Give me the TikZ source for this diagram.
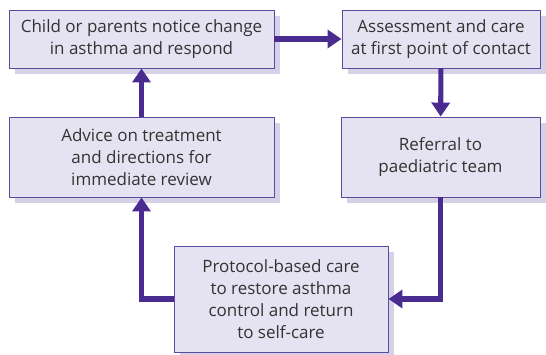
\documentclass[tikz,border=0pt]{standalone}
\usepackage{fontspec}
\setmainfont{Open Sans}
\usetikzlibrary{arrows.meta,shadows}

\definecolor{boxfill}{HTML}{E5E3F1}
\definecolor{boxline}{HTML}{5B4A9E}
\definecolor{boxshade}{HTML}{D5D2E8}
\definecolor{flow}{HTML}{4A2C90}
\definecolor{txt}{HTML}{333333}

\tikzset{
  carebox/.style={draw=boxline, line width=0.8pt, fill=boxfill, align=center,
    text=txt, font=\fontsize{14.5}{18.8}\selectfont, inner sep=0pt,
    drop shadow={shadow xshift=0.18cm, shadow yshift=-0.18cm, fill=boxshade, opacity=1}},
  flowline/.style={draw=flow, line width=4.3pt,
    -{Triangle[length=0.42cm,width=0.54cm]}}
}

\begin{document}
\begin{tikzpicture}
				\useasboundingbox (0,0) rectangle (16.38,10.62);
				
				% Draw the five stages of care
				\node[carebox, minimum width=7.95cm, minimum height=1.74cm] (notice) at (4.245,9.45)
				  {Child or parents notice change\\in asthma and respond};
				\node[carebox, minimum width=5.94cm, minimum height=1.74cm] (assess) at (13.23,9.45)
				  {Assessment and care\\at first point of contact};
				\node[carebox, minimum width=5.97cm, minimum height=2.4cm] (referral) at (13.215,5.91)
				  {Referral to\\paediatric team};
				\node[carebox, minimum width=7.95cm, minimum height=2.4cm] (advice) at (4.245,5.91)
				  {Advice on treatment\\and directions for\\immediate review};
				\node[carebox, minimum width=6.42cm, minimum height=3.18cm] (protocol) at (8.43,1.65)
				  {Protocol-based care\\to restore asthma\\control and return\\to self-care};
				
				% Link the stages round the cycle
				\draw[flowline] (notice) -- (assess);
				\draw[flowline] (assess) -- (referral);
				\draw[flowline] (referral.south) |- (protocol.east);
				\draw[flowline] (protocol.west) -| (advice.south);
				\draw[flowline] (advice) -- (notice);
			\end{tikzpicture}
\end{document}
